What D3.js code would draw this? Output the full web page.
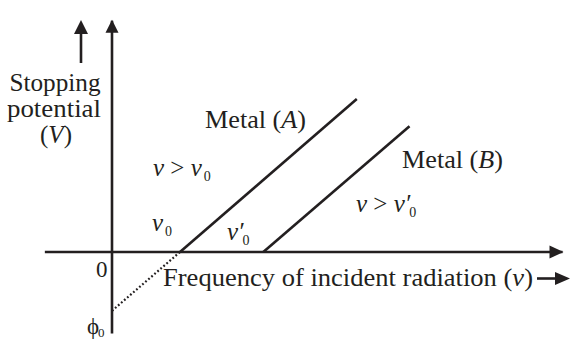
<!DOCTYPE html>
<html>
<head>
<meta charset="utf-8">
<script src="https://cdn.jsdelivr.net/npm/d3@7"></script>
<style>
  html, body { margin: 0; padding: 0; background: #fff; }
  svg { display: block; }
</style>
</head>
<body>
<svg id="chart" width="570" height="342"></svg>
<script>
// ---- data (frequency ν in arbitrary units, stopping potential V in arbitrary units) ----
const thresholds = [4, 8.9];                    // ν0 (metal A), ν'0 (metal B)
const lineA = [[4, 0], [14.4, 9.0]];            // Metal (A)
const lineB = [[8.9, 0], [17.5, 7.4]];          // Metal (B)
const extrapolation = [[0, -3.46], [4, 0]];     // dotted extension to −φ0
const xExtent = [-3.95, 26.5];                  // frequency axis extent
const yExtent = [-4.8, 13.6];                   // potential axis extent

const svg = d3.select("#chart");
const ink = "#231f20";
const FONT = "'Liberation Serif', 'Times New Roman', Times, serif";

const x = d3.scaleLinear().domain([0, 20]).range([112, 452]);
const y = d3.scaleLinear().domain([0, 10]).range([252, 82]);
const line = d3.line().x(d => x(d[0])).y(d => y(d[1]));

// axes
svg.append("line").attr("x1", x(xExtent[0])).attr("x2", x(xExtent[1]))
  .attr("y1", y(0)).attr("y2", y(0)).attr("stroke", ink).attr("stroke-width", 2.6);
svg.append("line").attr("x1", x(0)).attr("x2", x(0))
  .attr("y1", y(yExtent[0])).attr("y2", y(yExtent[1])).attr("stroke", ink).attr("stroke-width", 2.6);

// arrow heads
function head(tipX, tipY, dir, len, half) {
  let pts;
  if (dir === "up") pts = [[tipX, tipY], [tipX - half, tipY + len], [tipX + half, tipY + len]];
  else pts = [[tipX, tipY], [tipX - len, tipY - half], [tipX - len, tipY + half]];
  svg.append("path").attr("d", "M" + pts.map(p => p.join(",")).join("L") + "Z").attr("fill", ink);
}
head(x(0), y(yExtent[1]) - 1, "up", 13, 6.5);
head(x(xExtent[1]) + 1, y(0), "right", 14, 6.5);

// small arrow above the y label
svg.append("line").attr("x1", 81).attr("x2", 81).attr("y1", 63).attr("y2", 30)
  .attr("stroke", ink).attr("stroke-width", 2.6);
head(81, 20, "up", 14, 7);

// small arrow after x label
svg.append("line").attr("x1", 537).attr("x2", 558).attr("y1", 278.5).attr("y2", 278.5)
  .attr("stroke", ink).attr("stroke-width", 2.6);
head(570, 278.5, "right", 15, 6.5);

// metal lines
svg.append("path").attr("d", line(lineA)).attr("fill", "none").attr("stroke", ink).attr("stroke-width", 2.6);
svg.append("path").attr("d", line(lineB)).attr("fill", "none").attr("stroke", ink).attr("stroke-width", 2.6);
svg.append("path").attr("d", line(extrapolation)).attr("fill", "none").attr("stroke", ink)
  .attr("stroke-width", 2.2).attr("stroke-dasharray", "1.8,2.2");

// ---- text ----
const FS = 25;
function label(tx, ty, parts, opts = {}) {
  const t = svg.append("text").attr("x", tx).attr("y", ty)
    .attr("font-family", FONT).attr("fill", ink).attr("font-size", opts.size || FS);
  if (opts.anchor) t.attr("text-anchor", opts.anchor);
  if (opts.len) t.attr("textLength", opts.len).attr("lengthAdjust", "spacingAndGlyphs");
  parts.forEach(p => {
    const s = t.append("tspan").text(p.t);
    if (p.i) s.attr("font-style", "italic");
    if (p.sub) s.attr("font-size", p.ss || 14).attr("dy", p.dy || 5).attr("dx", p.dx || 0);
  });
  return t;
}

label(55, 91, [{t: "Stopping"}], {anchor: "middle", len: 91});
label(54, 117, [{t: "potential"}], {anchor: "middle", len: 94});
label(56, 143, [{t: "("}, {t: "V", i: 1}, {t: ")"}], {anchor: "middle"});

label(205, 128, [{t: "Metal ("}, {t: "A", i: 1}, {t: ")"}], {len: 101});
label(402, 168, [{t: "Metal ("}, {t: "B", i: 1}, {t: ")"}], {len: 101});

label(153, 176, [{t: "v", i: 1}, {t: " > "}, {t: "v", i: 1}, {t: "0", sub: 1, dx: 2}]);
label(152, 231, [{t: "v", i: 1}, {t: "0", sub: 1, dx: 2}]);
label(227, 240, [{t: "v′", i: 1}, {t: "0", sub: 1, dx: -1}]);
label(356, 212, [{t: "v", i: 1}, {t: " > "}, {t: "v′", i: 1}, {t: "0", sub: 1, dx: -1}]);

label(96, 277, [{t: "0"}], {size: 23});
label(87, 334, [{t: "ϕ"}, {t: "0", sub: 1, dx: -1, dy: 3, ss: 13}], {size: 23});

label(163, 286, [{t: "Frequency of incident radiation ("}, {t: "v", i: 1}, {t: ")"}], {len: 370});
</script>
</body>
</html>
